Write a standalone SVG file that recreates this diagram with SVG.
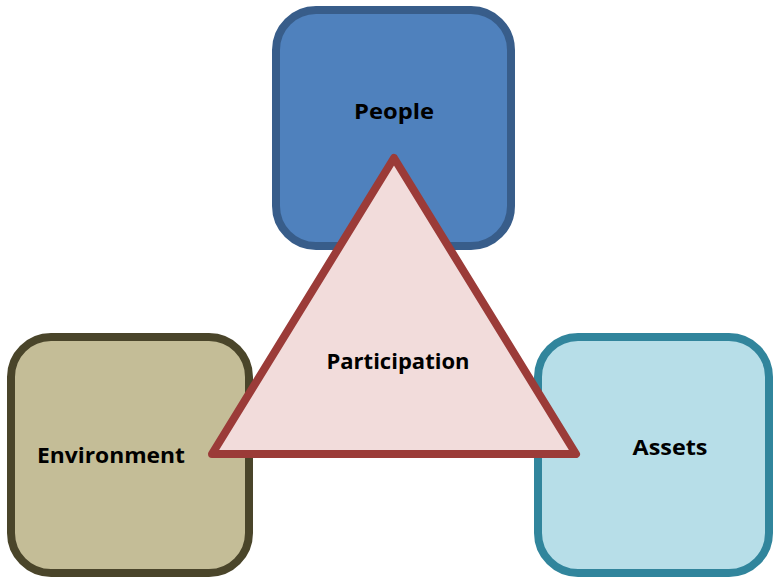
<svg xmlns="http://www.w3.org/2000/svg" width="773" height="577" viewBox="0 0 773 577">
<style>
.lbl{font-family:"Open Sans","Liberation Sans",sans-serif;font-weight:bold;font-size:21px;fill:#000;text-anchor:middle}
.box{stroke-width:8}
</style>
<rect width="773" height="577" fill="#fff"/>
<g id="people">
<rect class="box" x="276" y="10" width="235" height="236" rx="40" fill="#4F81BD" stroke="#385D8A"/>
<text class="lbl" x="394" y="119" textLength="80" lengthAdjust="spacingAndGlyphs">People</text>
</g>
<g id="environment">
<rect class="box" x="11" y="337" width="238" height="236" rx="40" fill="#C4BD97" stroke="#4A452A"/>
<text class="lbl" x="111" y="463" textLength="148" lengthAdjust="spacingAndGlyphs">Environment</text>
</g>
<g id="assets">
<rect class="box" x="538" y="337" width="231" height="236" rx="40" fill="#B7DEE8" stroke="#31859C"/>
<text class="lbl" x="670" y="455" textLength="75" lengthAdjust="spacingAndGlyphs">Assets</text>
</g>
<g id="participation">
<polygon points="394,158 576,454 212,454" fill="#F2DCDB" stroke="#9B3B38" stroke-width="8" stroke-linejoin="round"/>
<text class="lbl" x="398" y="369" textLength="143" lengthAdjust="spacingAndGlyphs">Participation</text>
</g>
<g id="connectors"/>
</svg>
